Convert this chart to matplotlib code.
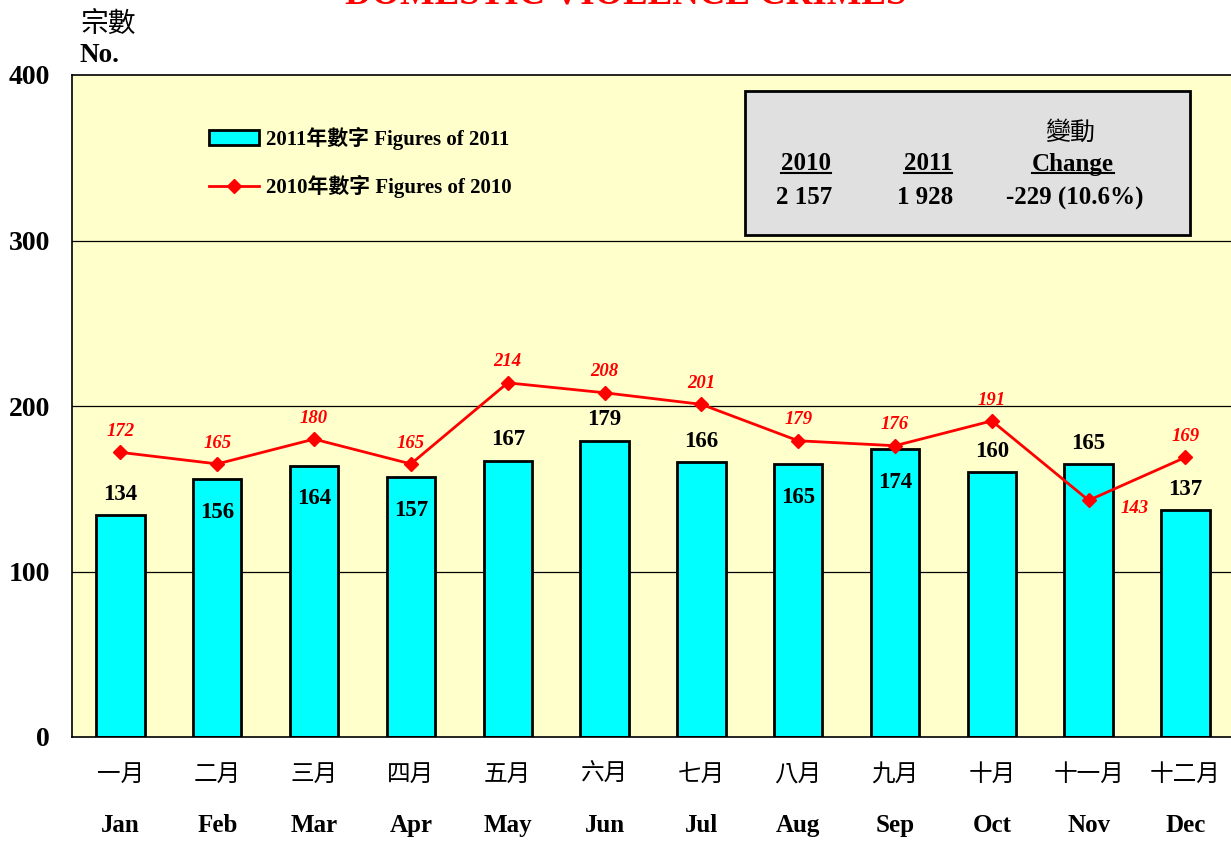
import matplotlib
matplotlib.use("Agg")
import matplotlib.pyplot as plt
from matplotlib.lines import Line2D
from matplotlib.patches import Rectangle, Patch

months_zh = ["一月", "二月", "三月", "四月", "五月", "六月", "七月", "八月", "九月", "十月", "十一月", "十二月"]
months_en = ["Jan", "Feb", "Mar", "Apr", "May", "Jun", "Jul", "Aug", "Sep", "Oct", "Nov", "Dec"]
figures_2011 = [134, 156, 164, 157, 167, 179, 166, 165, 174, 160, 165, 137]
figures_2010 = [172, 165, 180, 165, 214, 208, 201, 179, 176, 191, 143, 169]
inside_label = [False, True, True, True, False, False, False, True, True, False, False, False]
yticks = [0, 100, 200, 300, 400]

SERIF = ["Liberation Serif", "Noto Sans CJK TC"]
CJK = ["Noto Sans CJK TC", "DejaVu Sans"]

fig = plt.figure(figsize=(12.31, 8.41), dpi=100)
ax = fig.add_axes([72/1231, 1-737/841, 1-72/1231, (737-75)/841])
ax.set_facecolor("#FFFFCC")
x = list(range(12))
ax.set_xlim(-0.5, 11.47)
ax.set_ylim(0, 400)

for yv in yticks[1:4]:
    ax.axhline(yv, color="black", lw=0.9, zorder=1)

ax.bar(x, figures_2011, width=0.5, color="#00FFFF", edgecolor="black", lw=2, zorder=2)
ax.plot(x, figures_2010, color="#FF0000", lw=2, marker="D", ms=7, zorder=3)

for i, v in enumerate(figures_2011):
    dy = -24 if inside_label[i] else 15
    ax.annotate(str(v), (i, v), xytext=(0, dy), textcoords="offset points",
                ha="center", va="center", fontsize=16.5, fontweight="bold", family=SERIF, zorder=4)

for i, v in enumerate(figures_2010):
    off = (33, -6) if i == 10 else (0, 15)
    ax.annotate(str(v), (i, v), xytext=off, textcoords="offset points",
                ha="center", va="center", fontsize=13.5, fontweight="bold", style="italic",
                color="#FF0000", family=SERIF, zorder=4)

ax.set_yticks(yticks)
ax.set_yticklabels([str(t) for t in yticks], fontsize=20, fontweight="bold", family=SERIF)
ax.tick_params(axis="y", length=0, pad=16)
ax.set_xticks([])
for s in ["left", "bottom", "top"]:
    ax.spines[s].set_color("black")
    ax.spines[s].set_linewidth(1.2)
ax.spines["right"].set_visible(False)

trans = ax.get_xaxis_transform()
for i in x:
    ax.text(i, -0.057, months_zh[i], transform=trans, ha="center", va="center",
            fontsize=17, family=CJK)
    ax.text(i, -0.133, months_en[i], transform=trans, ha="center", va="center",
            fontsize=18, fontweight="bold", family=SERIF)

fig.text(626/1231, 1-4/841, "DOMESTIC VIOLENCE CRIMES", ha="center", va="baseline",
         fontsize=26.5, fontweight="bold", color="#FF0000", family=SERIF)
fig.text(80/1231, 1-24/841, "宗數", ha="left", va="center", fontsize=20, family=CJK)
fig.text(80/1231, 1-56/841, "No.", ha="left", va="center", fontsize=19.5, fontweight="bold", family=SERIF)

handles = [Patch(facecolor="#00FFFF", edgecolor="black", lw=2),
           Line2D([], [], color="#FF0000", lw=2, marker="D", ms=7)]
leg = ax.legend(handles, ["2011年數字 Figures of 2011", "2010年數字 Figures of 2010"],
                loc="upper left", bbox_to_anchor=((190-72)/(1231-72), (737-108)/(737-75)),
                frameon=False, handlelength=2.4, handleheight=0.7, labelspacing=1.2, handletextpad=0.35,
                prop={"family": SERIF, "weight": "bold", "size": 15})

# summary box
bx0, by0, bx1, by1 = 745, 91, 1190, 235
rect = Rectangle((bx0/1231, 1-by1/841), (bx1-bx0)/1231, (by1-by0)/841, transform=fig.transFigure,
                 facecolor="#E0E0E0", edgecolor="black", lw=2, zorder=5)
fig.add_artist(rect)
def ft(px, py, s, fam=SERIF, weight="bold"):
    return fig.text(px/1231, 1-py/841, s, ha="center", va="center", fontsize=18, fontweight=weight,
                    family=fam, zorder=6)
ft(1070, 133, "變動", fam=CJK, weight="normal")
under = [ft(806, 164, "2010"), ft(928, 164, "2011"), ft(1073, 164, "Change")]
ft(804, 198, "2 157")
ft(925, 198, "1 928")
ft(1075, 198, "-229 (10.6%)")

fig.canvas.draw()
r = fig.canvas.get_renderer()
for t in under:
    bb = t.get_window_extent(r)
    yline = bb.y0 + 3
    fig.add_artist(Line2D([bb.x0/1231, bb.x1/1231], [yline/841, yline/841],
                          transform=fig.transFigure, color="black", lw=1.5, zorder=7))

fig.savefig("out.png", dpi=100)
